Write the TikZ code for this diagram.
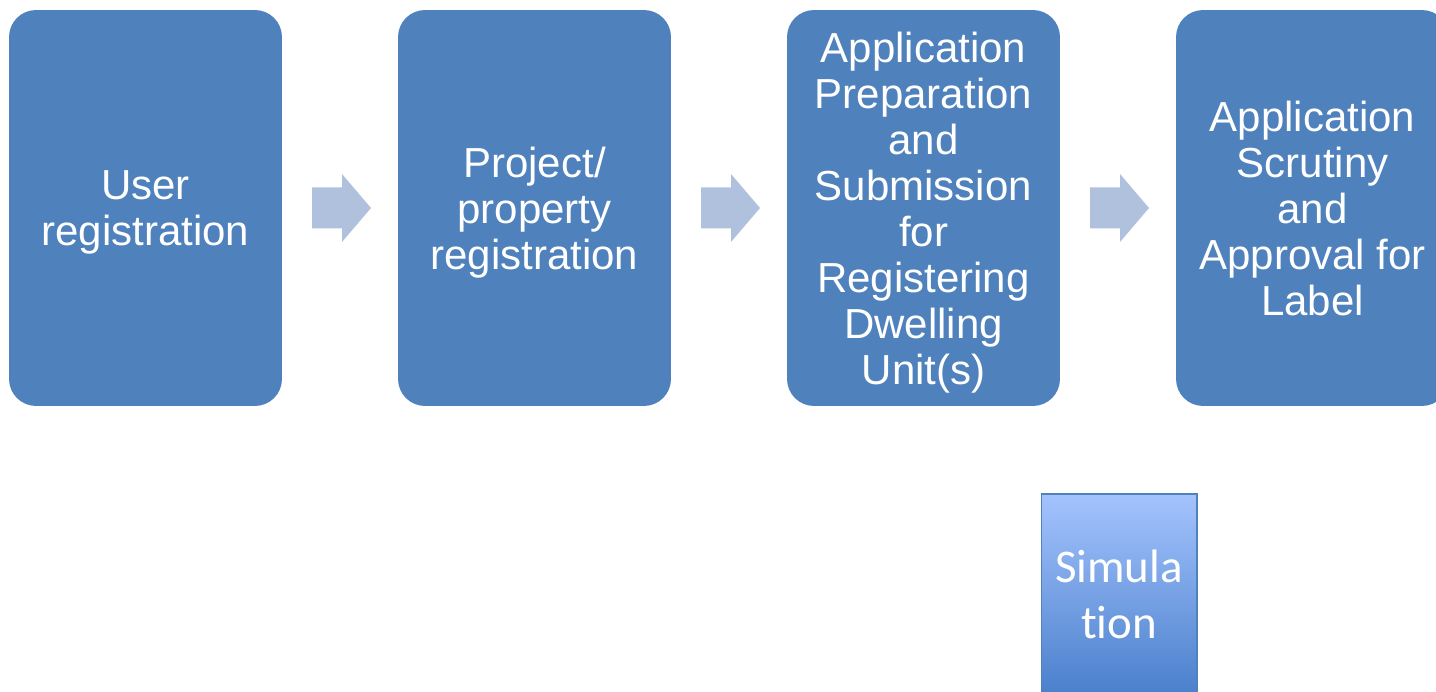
\documentclass[tikz,border=0pt]{standalone}
\usepackage{fontspec}
\setmainfont{Liberation Sans}
\newfontfamily\simfont[Ligatures=NoCommon]{Carlito}
\usepackage{tikz}
\usepackage{xcolor}
\usetikzlibrary{positioning,calc}

\definecolor{stepblue}{HTML}{4F81BD}
\definecolor{arrowgrey}{HTML}{B0C1DD}
\definecolor{simtop}{HTML}{A4C3FD}
\definecolor{simbot}{HTML}{4A80CC}

\begin{document}
\begin{tikzpicture}[
    x=0.02cm, y=-0.02cm,
    stepbox/.style={rectangle,rounded corners=0.54cm,fill=stepblue,draw=none,
      minimum width=5.46cm,minimum height=7.92cm,inner sep=0pt,text depth=0pt,
      text=white,align=center,font=\fontsize{23.9}{26.2}\selectfont},
    flowarrow/.style={fill=arrowgrey,draw=none},
    simbox/.style={rectangle,draw=stepblue,line width=0.6pt,top color=simtop,bottom color=simbot,
      minimum width=3.12cm,minimum height=4.02cm,inner sep=0pt,
      text=white,align=center,font=\simfont\fontsize{26.7}{33}\selectfont}]
  \useasboundingbox (0,0) rectangle (1436,692);
  % ---- top row: registration steps ----
  \node[stepbox] (user)     at (145.5,208) {User\\registration};
  \node[stepbox] (project)  at (534.5,208) {Project/\\property\\registration};
  \node[stepbox] (prepare)  at (923.5,208) {Application\\Preparation\\and\\Submission\\for\\Registering\\Dwelling\\Unit(s)};
  \node[stepbox] (scrutiny) at (1312.5,208) {Application\\Scrutiny\\and\\Approval for\\Label};
  % ---- block arrows between the steps ----
  \foreach \a/\b in {user/project,project/prepare,prepare/scrutiny}
    \fill[flowarrow] ($(\a.east)!0.5!(\b.west)$) ++(-28,-20.5) -- ++(30,0) -- ++(0,-13.5)
      -- ++(29,34) -- ++(-29,34) -- ++(0,-13.5) -- ++(-30,0) -- cycle;
  % ---- simulation ----
  \node[simbox] (sim) at (1119,594.5) {Simula\\[-0.05cm]tion};
\end{tikzpicture}
\end{document}
